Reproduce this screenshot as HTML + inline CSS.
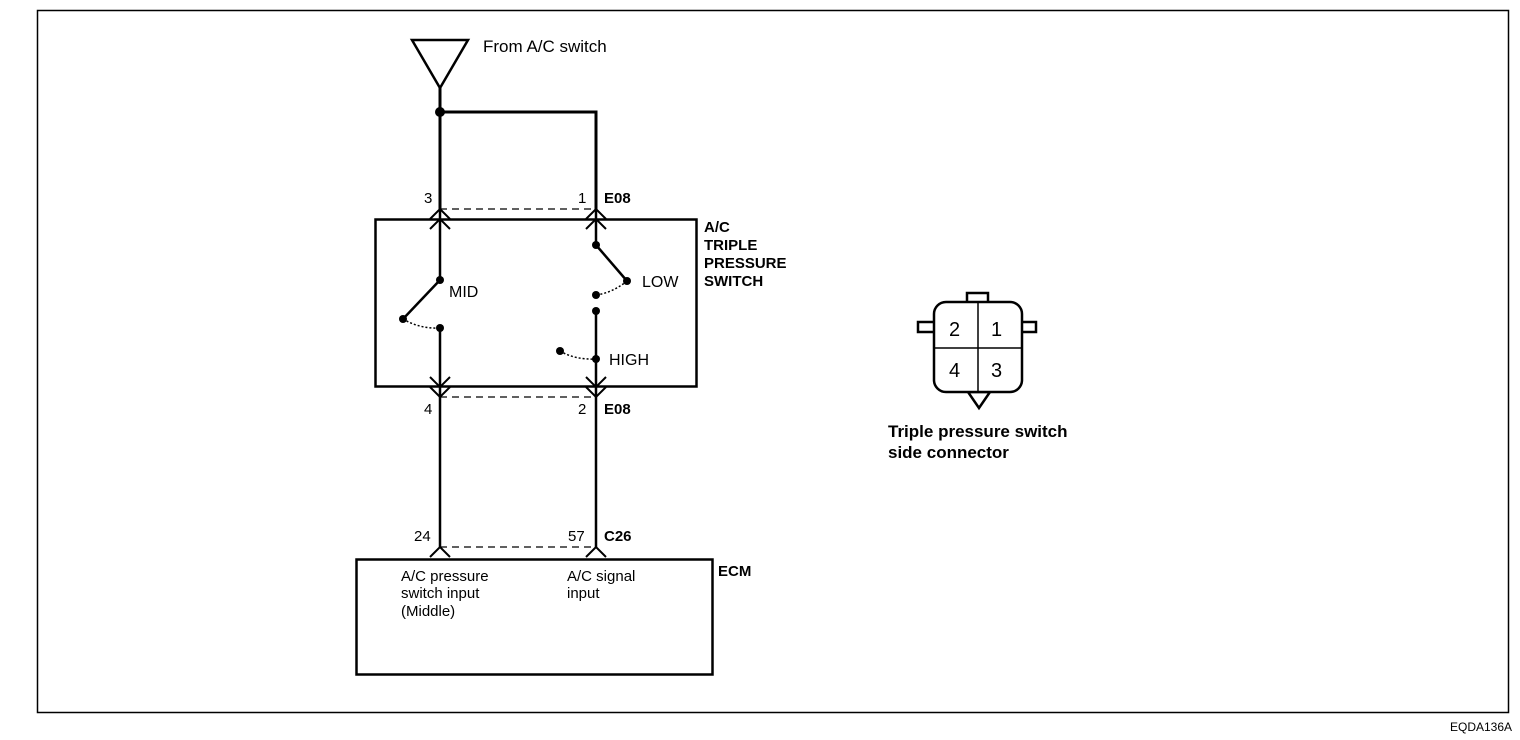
<!DOCTYPE html>
<html><head><style>
body{margin:0;background:#fff;}
svg{display:block;font-family:"Liberation Sans",Arial,sans-serif;}
</style></head><body>
<svg width="1520" height="740" viewBox="0 0 1520 740" xmlns="http://www.w3.org/2000/svg">
<rect x="37.5" y="10.5" width="1471" height="702" fill="none" stroke="#000" stroke-width="1.5"/>
<text x="1450" y="731" font-size="12">EQDA136A</text>

<!-- source triangle -->
<polygon points="412,40 468,40 440,88" fill="none" stroke="#000" stroke-width="2.5"/>
<text x="483" y="52" font-size="17">From A/C switch</text>
<g stroke="#000" stroke-width="3" fill="none">
<line x1="440" y1="88" x2="440" y2="211"/>
<polyline points="440,112 596,112 596,211"/>
</g>
<circle cx="440" cy="112" r="5"/>

<!-- triple switch box -->
<rect x="375.5" y="219.5" width="321" height="167" fill="none" stroke="#000" stroke-width="2.5"/>
<line x1="440" y1="209" x2="596" y2="209" stroke="#000" stroke-width="1.3" stroke-dasharray="7,5"/>
<line x1="440" y1="397" x2="596" y2="397" stroke="#000" stroke-width="1.3" stroke-dasharray="7,5"/>
<g stroke="#000" stroke-width="2" fill="none">
<polyline points="430,219 440,209 450,219"/>
<polyline points="430,229 440,219 450,229"/>
<polyline points="586,219 596,209 606,219"/>
<polyline points="586,229 596,219 606,229"/>
<polyline points="430,377 440,387 450,377"/>
<polyline points="430,387 440,397 450,387"/>
<polyline points="586,377 596,387 606,377"/>
<polyline points="586,387 596,397 606,387"/>
</g>
<g stroke="#000" stroke-width="2.5" fill="none">
<line x1="440" y1="211" x2="440" y2="280"/>
<line x1="440" y1="280" x2="403" y2="319"/>
<line x1="440" y1="328" x2="440" y2="397"/>
<line x1="596" y1="211" x2="596" y2="245"/>
<line x1="596" y1="245" x2="627" y2="281"/>
<line x1="596" y1="311" x2="596" y2="397"/>
<line x1="440" y1="397" x2="440" y2="547"/>
<line x1="596" y1="397" x2="596" y2="547"/>
</g>
<g stroke="#000" stroke-width="1.5" fill="none" stroke-dasharray="2,2">
<path d="M403,319 Q420,329 440,328"/>
<path d="M627,281 Q612,293 596,295"/>
<path d="M560,351 Q575,360 596,359"/>
</g>
<g fill="#000">
<circle cx="440" cy="280" r="4"/><circle cx="403" cy="319" r="4"/><circle cx="440" cy="328" r="4"/>
<circle cx="596" cy="245" r="4"/><circle cx="627" cy="281" r="4"/><circle cx="596" cy="295" r="4"/>
<circle cx="596" cy="311" r="4"/><circle cx="596" cy="359" r="4"/><circle cx="560" cy="351" r="4"/>
</g>
<text x="449" y="297" font-size="16">MID</text>
<text x="642" y="287" font-size="16">LOW</text>
<text x="609" y="365" font-size="16">HIGH</text>
<text x="424" y="203" font-size="15">3</text>
<text x="578" y="203" font-size="15">1</text>
<text x="604" y="203" font-size="15" font-weight="bold">E08</text>
<text x="424" y="414" font-size="15">4</text>
<text x="578" y="414" font-size="15">2</text>
<text x="604" y="414" font-size="15" font-weight="bold">E08</text>
<g font-size="15" font-weight="bold">
<text x="704" y="232">A/C</text><text x="704" y="250">TRIPLE</text>
<text x="704" y="268">PRESSURE</text><text x="704" y="286">SWITCH</text>
</g>

<!-- ECM -->
<rect x="356.5" y="559.5" width="356" height="115" fill="none" stroke="#000" stroke-width="2.5"/>
<line x1="440" y1="547" x2="596" y2="547" stroke="#000" stroke-width="1.3" stroke-dasharray="7,5"/>
<g stroke="#000" stroke-width="2" fill="none">
<polyline points="430,557 440,547 450,557"/>
<polyline points="586,557 596,547 606,557"/>
</g>
<text x="414" y="541" font-size="15">24</text>
<text x="568" y="541" font-size="15">57</text>
<text x="604" y="541" font-size="15" font-weight="bold">C26</text>
<text x="718" y="576" font-size="15" font-weight="bold">ECM</text>
<g font-size="15">
<text x="401" y="581">A/C pressure</text><text x="401" y="598">switch input</text><text x="401" y="616">(Middle)</text>
<text x="567" y="581">A/C signal</text><text x="567" y="598">input</text>
</g>

<!-- connector -->
<g stroke="#000" stroke-width="2.5" fill="#fff">
<rect x="967" y="293" width="21" height="10"/>
<rect x="918" y="322" width="18" height="10"/>
<rect x="1020" y="322" width="16" height="10"/>
<polygon points="968,392 990,392 979,408"/>
<rect x="934" y="302" width="88" height="90" rx="12"/>
</g>
<g stroke="#000" stroke-width="1.5">
<line x1="978" y1="302" x2="978" y2="392"/>
<line x1="934" y1="348" x2="1022" y2="348"/>
</g>
<g font-size="20">
<text x="949" y="336">2</text><text x="991" y="336">1</text>
<text x="949" y="377">4</text><text x="991" y="377">3</text>
</g>
<g font-size="17" font-weight="bold">
<text x="888" y="437">Triple pressure switch</text>
<text x="888" y="458">side connector</text>
</g>
</svg>
</body></html>
